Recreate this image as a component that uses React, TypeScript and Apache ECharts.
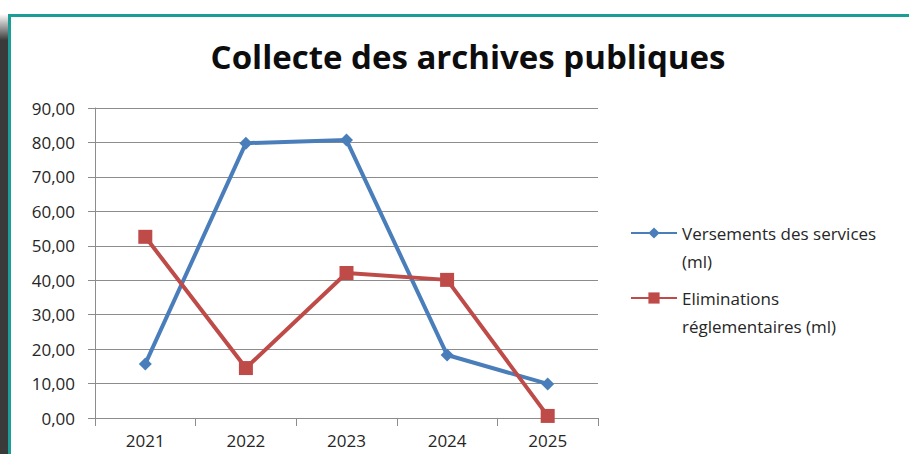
import React, { useEffect, useRef } from "react";
import * as echarts from "echarts";

const years = ["2021", "2022", "2023", "2024", "2025"];
const versements = [15.7, 79.8, 80.7, 18.3, 9.9];
const eliminations = [52.6, 14.5, 42.1, 40.1, 0.6];
const seriesNames = ["Versements des services (ml)", "Eliminations réglementaires (ml)"];
const legendLines: Record<string, string> = {
  "Versements des services (ml)": "Versements des services\n(ml)",
  "Eliminations réglementaires (ml)": "Eliminations\nréglementaires (ml)",
};
const titleText = "Collecte des archives publiques";

const BLUE = "#4a7ebb";
const RED = "#be4b48";
const GRID = "#8c8c8c";
const TEAL = "#1a9e96";
const FONT = "'Open Sans', 'Noto Sans', sans-serif";

export default function App() {
  const ref = useRef<HTMLDivElement>(null);
  useEffect(() => {
    if (!ref.current) return;
    const chart = echarts.init(ref.current, null, { renderer: "svg" });
    const legendBase = (name: string, top: number) => ({
      data: [name],
      orient: "vertical",
      left: 630,
      top,
      padding: 0,
      itemWidth: 46,
      itemHeight: 14,
      itemGap: 4,
      formatter: (n: string) => " \n" + (legendLines[n] || n),
      textStyle: {
        fontFamily: FONT,
        fontSize: 17,
        color: "#262626",
        lineHeight: 28,
      },
    });
    chart.setOption({
      animation: false,
      backgroundColor: "#ffffff",
      title: {
        text: titleText,
        left: 463,
        textAlign: "center",
        top: 35,
        textStyle: { fontFamily: FONT, fontSize: 33, fontWeight: "bold", color: "#0d0d0d" },
      },
      graphic: [
        {
          type: "rect",
          shape: { x: 0, y: 14, width: 8, height: 440 },
          style: {
            fill: new echarts.graphic.LinearGradient(0, 0, 0, 1, [
              { offset: 0, color: "#ffffff" },
              { offset: 0.06, color: "#3a3a3a" },
              { offset: 1, color: "#3a3a3a" },
            ]),
          },
          silent: true,
        },
        { type: "rect", shape: { x: 8, y: 14, width: 901, height: 3 }, style: { fill: TEAL }, silent: true },
        { type: "rect", shape: { x: 8, y: 14, width: 3, height: 440 }, style: { fill: TEAL }, silent: true },
      ],
      legend: [legendBase(seriesNames[0], 191), legendBase(seriesNames[1], 256)],
      grid: { left: 95, right: 311, top: 108, bottom: 36, containLabel: false },
      xAxis: {
        type: "category",
        data: years,
        boundaryGap: true,
        axisLine: { show: true, lineStyle: { color: GRID, width: 1 } },
        axisTick: { show: true, length: 8, lineStyle: { color: GRID } },
        axisLabel: { margin: 14, fontFamily: FONT, fontSize: 17, color: "#262626" },
        splitLine: { show: false },
      },
      yAxis: {
        type: "value",
        min: 0,
        max: 90,
        interval: 10,
        axisLine: { show: true, lineStyle: { color: GRID, width: 1 } },
        axisTick: { show: true, length: 7, lineStyle: { color: GRID } },
        axisLabel: {
          margin: 20,
          fontFamily: FONT,
          fontSize: 17,
          color: "#262626",
          formatter: (v: number) => v.toFixed(2).replace(".", ","),
        },
        splitLine: { show: true, lineStyle: { color: GRID, width: 1 } },
      },
      series: [
        {
          name: seriesNames[0],
          type: "line",
          data: versements,
          symbol: "diamond",
          symbolSize: 13,
          color: BLUE,
          lineStyle: { width: 4, color: BLUE },
          itemStyle: { color: BLUE },
        },
        {
          name: seriesNames[1],
          type: "line",
          data: eliminations,
          symbol: "rect",
          symbolSize: 14,
          color: RED,
          lineStyle: { width: 4, color: RED },
          itemStyle: { color: RED },
        },
      ],
    });
    return () => chart.dispose();
  }, []);
  return (
    <div
      ref={ref}
      style={{ position: "absolute", left: 0, top: 0, width: 909, height: 454 }}
    />
  );
}
